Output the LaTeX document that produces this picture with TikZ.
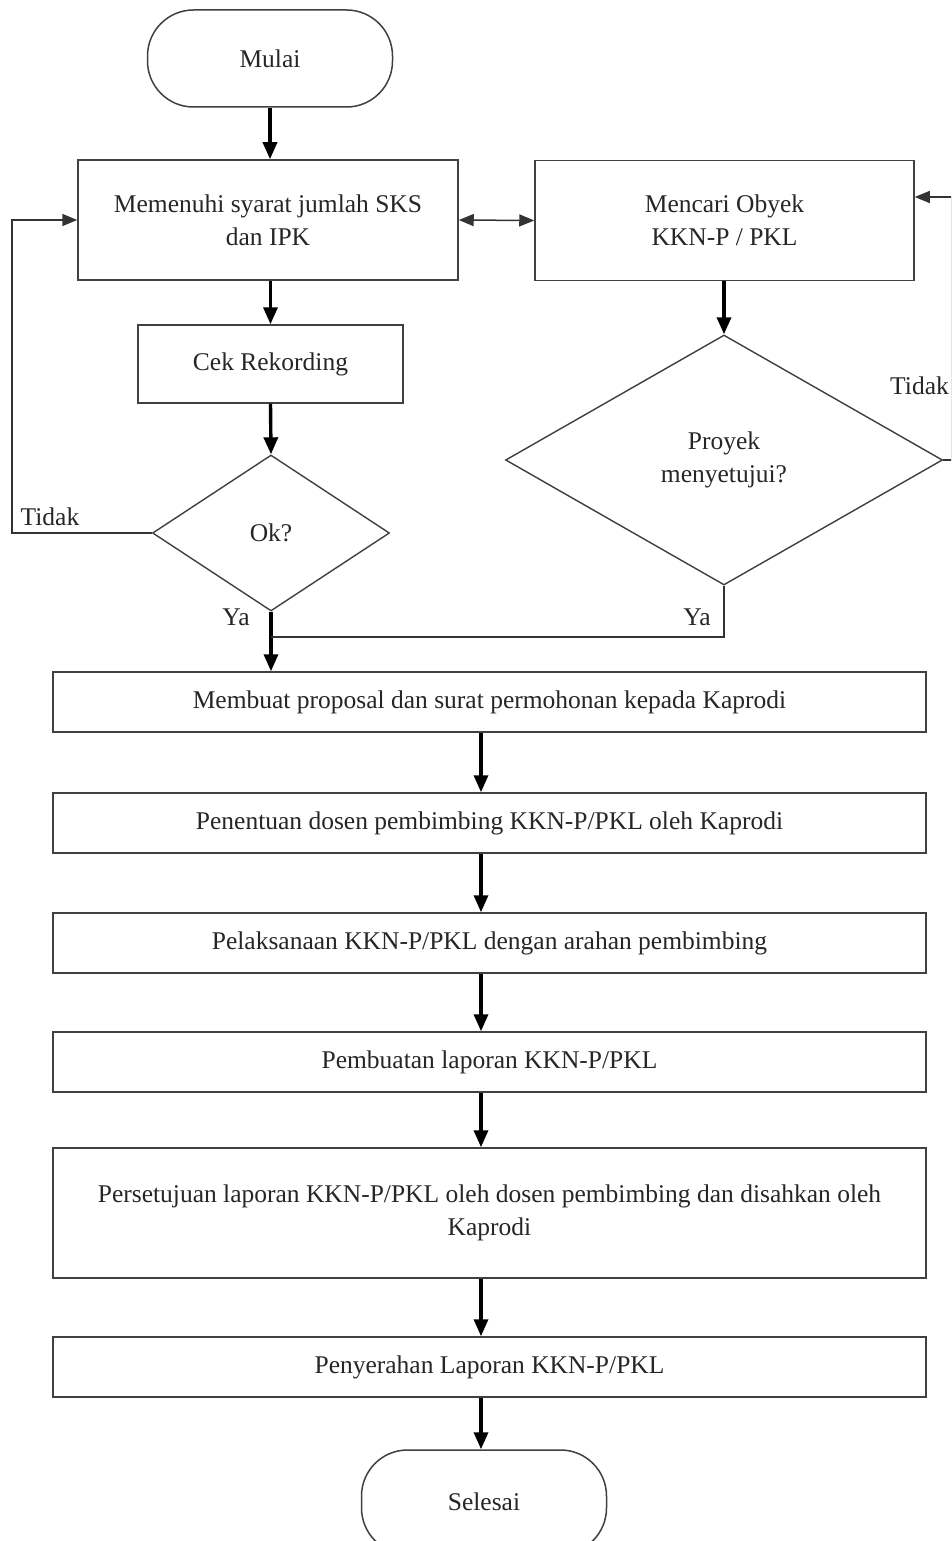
\documentclass[tikz,border=0pt]{standalone}
\usepackage{fontspec}
\setmainfont{Liberation Serif}
\usetikzlibrary{shapes.geometric,arrows.meta}
\begin{document}
\begin{tikzpicture}[x=1pt,y=-1pt,
  every node/.style={font=\fontsize{25.5}{33}\selectfont, text=black!85},
  box/.style={draw=black!75, line width=1.5pt, rectangle, inner sep=0pt, align=center},
  term/.style={box, rounded corners=46pt},
  decide/.style={draw=black!75, line width=1.4pt, diamond, inner sep=0pt, align=center},
  flow/.style={line width=3.4pt, -{Triangle[length=17pt,width=14pt]}},
  link/.style={line width=1.5pt, draw=black!80},
  linkarrow/.style={link, -{Triangle[length=15pt,width=12pt]}},
  lbl/.style={inner sep=0pt}
]
\useasboundingbox (0,0) rectangle (951,1541);
\clip (0,0) rectangle (951,1541);
\fill[white] (0,0) rectangle (951,1541);

% upper part: entry checks and search for a placement
\node[term, minimum width=245pt, minimum height=97pt] (start) at (270,58.5) {Mulai};
\node[box, minimum width=380pt, minimum height=120pt] (syarat) at (268,220) {Memenuhi syarat jumlah SKS\\dan IPK};
\node[box, minimum width=379pt, minimum height=120pt] (cari) at (724.5,220.5) {Mencari Obyek\\KKN-P / PKL};
\node[box, minimum width=265pt, minimum height=78pt] (cek) at (270.5,364) {Cek Rekording};
\node[decide, minimum width=237pt, minimum height=156pt] (ok) at (271,533) {Ok?};
\node[decide, minimum width=437pt, minimum height=250pt] (setuju) at (724,460) {Proyek\\menyetujui?};

% main sequence
\node[box, minimum width=873pt, minimum height=60pt] (prop) at (489.5,702) {Membuat proposal dan surat permohonan kepada Kaprodi};
\node[box, minimum width=873pt, minimum height=60pt] (tentu) at (489.5,823) {Penentuan dosen pembimbing KKN-P/PKL oleh Kaprodi};
\node[box, minimum width=873pt, minimum height=60pt] (laksana) at (489.5,943) {Pelaksanaan KKN-P/PKL dengan arahan pembimbing};
\node[box, minimum width=873pt, minimum height=60pt] (buat) at (489.5,1062) {Pembuatan laporan KKN-P/PKL};
\node[box, minimum width=873pt, minimum height=130pt] (sah) at (489.5,1213) {Persetujuan laporan KKN-P/PKL oleh dosen pembimbing dan disahkan oleh\\Kaprodi};
\node[box, minimum width=873pt, minimum height=60pt] (serah) at (489.5,1367) {Penyerahan Laporan KKN-P/PKL};
\node[term, minimum width=245pt, minimum height=104pt] (end) at (484,1502) {Selesai};

% helper coordinates for routed connectors
\coordinate (col) at (481,0);
\coordinate (join) at (271,637);
\coordinate (lp) at (12,0);
\coordinate (rtop) at (951.5,197);

% connectors
\draw[flow] (start.south) -- (start.south |- syarat.north);
\draw[flow] (syarat.south -| cek) -- (cek.north);
\draw[flow] (cek.south) -- (ok.north);
\draw[flow] (cari.south -| setuju) -- (setuju.north);
\draw[flow] (ok.south) -- (ok.south |- prop.north);
\draw[link] (setuju.south) |- (join);
\draw[linkarrow] (ok.west) -| (lp |- syarat.west) -- (syarat.west);
\draw[link, {Triangle[length=15pt,width=12pt]}-{Triangle[length=15pt,width=12pt]}] (syarat.east) -- (cari.west);
\draw[linkarrow] (setuju.east) -| (rtop) -- (cari.east |- rtop);
\foreach \a/\b in {prop/tentu, tentu/laksana, laksana/buat, buat/sah, sah/serah, serah/end}
  \draw[flow] (\a.south -| col) -- (\b.north -| col);

% branch labels
\node[lbl] (tidakL) at (50,517) {Tidak};
\node[lbl, anchor=east] (tidakR) at (949,386) {Tidak};
\node[lbl] (yaL) at (236,617) {Ya};
\node[lbl] (yaR) at (697,617) {Ya};
\end{tikzpicture}
\end{document}
